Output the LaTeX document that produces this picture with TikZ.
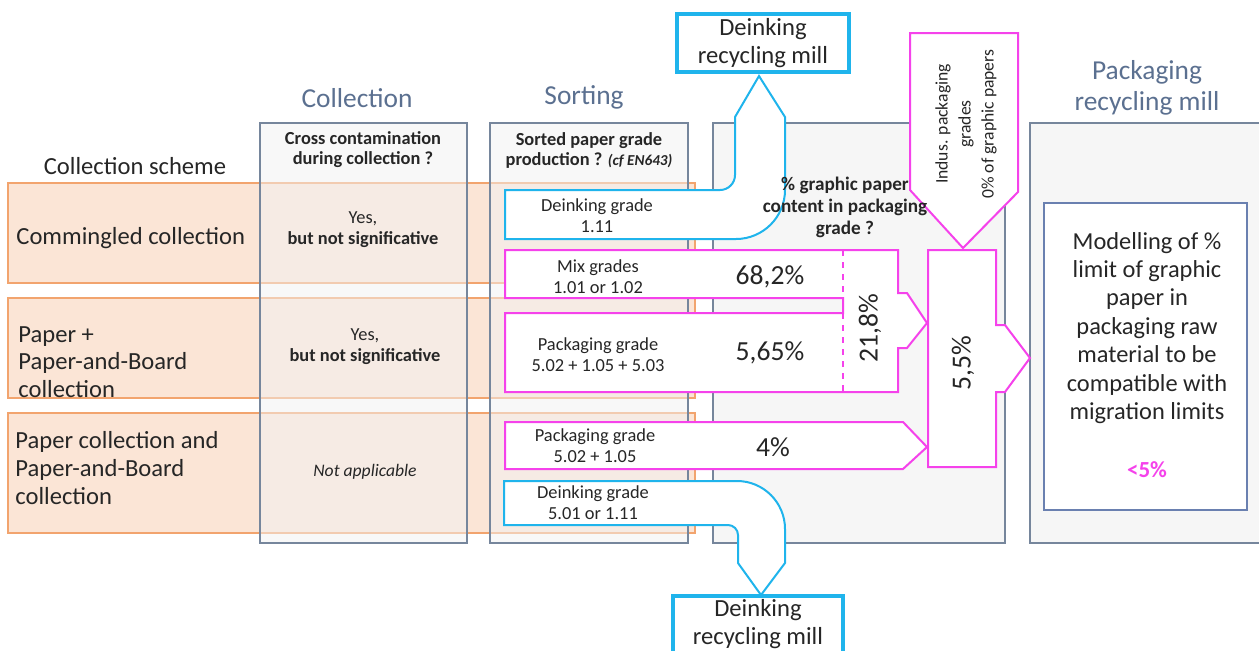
\documentclass[tikz,border=0pt]{standalone}
\usepackage{fontspec}
\setmainfont{Carlito}
\usepackage{tikz}
\definecolor{orangefill}{HTML}{FBE5D6}
\definecolor{orangeline}{HTML}{F2A46E}
\definecolor{colfill}{HTML}{F2F2F2}
\definecolor{colline}{HTML}{76869C}
\definecolor{stagefill}{HTML}{F6F6F6}
\definecolor{headc}{HTML}{5B7090}
\definecolor{deinkblue}{HTML}{1FB4EC}
\definecolor{flowpink}{HTML}{F542EB}
\definecolor{modline}{HTML}{6A80B0}
\definecolor{txt}{HTML}{262626}

\begin{document}
\begin{tikzpicture}[x=0.5pt,y=-0.5pt,
  every node/.append style={text=txt},
  scheme/.style={draw=orangeline,fill=orangefill,line width=0.9pt},
  column/.style={draw=colline,fill=colfill,fill opacity=0.5,line width=1pt},
  stage/.style={draw=colline,fill=stagefill,line width=1pt},
  blueflow/.style={draw=deinkblue,fill=white,line width=1pt},
  pinkflow/.style={draw=flowpink,fill=white,line width=1pt},
  mill/.style={draw=deinkblue,fill=white,line width=1.6pt},
  heading/.style={text=headc,align=center,font=\fontsize{13.7}{15.5}\selectfont},
  rowlabel/.style={anchor=west,align=left,inner sep=0pt,font=\fontsize{12.3}{13.8}\selectfont},
  smalltxt/.style={align=center,font=\fontsize{9.2}{10.5}\selectfont},
  sharetxt/.style={font=\fontsize{13.8}{16}\selectfont},
  millname/.style={align=center,font=\fontsize{12.3}{14}\selectfont}]
  \useasboundingbox (0,0) rectangle (1259,650);
  \clip (0,0) rectangle (1259,650);

  % collection schemes
  \draw[scheme] (8,183) rectangle (695,283);
  \draw[scheme] (8,298) rectangle (695,398);
  \draw[scheme] (8,413) rectangle (695,533);

  % stages
  \draw[column] (260,123) rectangle (467,543);
  \draw[column] (490,123) rectangle (688,543);
  \draw[stage] (713,123) rectangle (1005,543);
  \draw[stage] (1030,123) rectangle (1275,543);

  \node[heading] (collhead) at (357,98) {Collection};
  \node[heading] (sorthead) at (584,97) {Sorting};
  \node[heading] (packhead) at (1147,88) {Packaging\\recycling mill};
  \node[rowlabel,anchor=center] (schemehead) at (135,166) {Collection scheme};

  \node[rowlabel] (commingled) at (16,238) {Commingled collection};
  \node[rowlabel] (paperplus) at (18,362) {Paper +\\Paper-and-Board\\collection};
  \node[rowlabel] (separate) at (15,468) {Paper collection and\\Paper-and-Board\\collection};

  \node[smalltxt,font=\fontsize{9.2}{10}\bfseries] (crosshead) at (363,150)
    {Cross contamination\\during collection ?};
  \node[smalltxt,font=\fontsize{9.2}{10}\bfseries] (sorthdr) at (589,150)
    {Sorted paper grade\\production ? {\itshape\fontsize{7.6}{10}\selectfont (cf EN643)}};
  \node[smalltxt] (cross1) at (363,230) {Yes,\\\textbf{but not significative}};
  \node[smalltxt] (cross2) at (365,347) {Yes,\\\textbf{but not significative}};
  \node[smalltxt,font=\fontsize{8.8}{10}\itshape] (cross3) at (365,472) {Not applicable};

  % flows to deinking mills
  \draw[blueflow] (505,239) -- (505,190) -- (720,190)
    .. controls (728.3,190) and (735,183.3) .. (735,175)
    -- (735,117) -- (759,76) -- (785,117) -- (785,190)
    .. controls (785,217) and (763,239) .. (736,239) -- cycle;
  \node[smalltxt] (deink1) at (597,216) {Deinking grade\\1.11};
  \draw[blueflow] (504,481) -- (737,481)
    .. controls (763.5,481) and (785,502.5) .. (785,529)
    -- (785,563) -- (761,595) -- (738,563) -- (738,535)
    .. controls (738,529.5) and (733.5,525) .. (728,525)
    -- (504,525) -- cycle;
  \node[smalltxt] (deink2) at (593,503) {Deinking grade\\5.01 or 1.11};

  \draw[mill] (677,14) rectangle (849,72);
  \node[millname] (milltop) at (763,43) {Deinking\\recycling mill};
  \draw[mill] (673,596) rectangle (843,670);
  \node[millname] (millbot) at (758,624) {Deinking\\recycling mill};

  % flows to packaging
  \draw[pinkflow] (505,250) -- (898,250) -- (898,293) -- (907,293) -- (927,323)
    -- (907,348) -- (898,348) -- (898,392) -- (505,392) -- (505,313)
    -- (843,313) -- (843,298) -- (505,298) -- cycle;
  \draw[flowpink,line width=1pt,dashed] (843,250) -- (843,298) (843,313) -- (843,392);
  \node[smalltxt] (mix) at (598,277) {Mix grades\\1.01 or 1.02};
  \node[sharetxt] (mixshare) at (770,277) {68,2\%};
  \node[smalltxt] (pack1) at (598,355) {Packaging grade\\5.02 + 1.05 + 5.03};
  \node[sharetxt] (pack1share) at (770,353) {5,65\%};
  \node[sharetxt,rotate=90] (mergedshare) at (870,328) {21,8\%};

  \draw[pinkflow] (505,422) -- (903,422) -- (927,447) -- (903,469) -- (505,469) -- cycle;
  \node[smalltxt] (pack2) at (595,446) {Packaging grade\\5.02 + 1.05};
  \node[sharetxt] (pack2share) at (773,447) {4\%};

  \draw[pinkflow] (910,33) -- (1018,33) -- (1018,192) -- (963,248) -- (910,190) -- cycle;
  \node[smalltxt,rotate=90,font=\fontsize{8.8}{11.5}\selectfont] (indus) at (966,124)
    {Indus. packaging\\grades\\0\% of graphic papers};

  \node[smalltxt,font=\fontsize{9.6}{11}\bfseries] (graphhead) at (845,207)
    {\% graphic paper\\content in packaging\\grade ?};

  \draw[pinkflow] (928,250) -- (996,250) -- (996,325) -- (1005,325) -- (1030,358)
    -- (1005,392) -- (996,392) -- (996,467) -- (928,467) -- cycle;
  \node[sharetxt,rotate=90] (total) at (963,363) {5,5\%};

  % modelling
  \draw[draw=modline,fill=white,line width=1pt] (1044,203) rectangle (1247,510);
  \node[millname,font=\fontsize{12.2}{14.2}\selectfont] (model) at (1147,328)
    {Modelling of \%\\limit of graphic\\paper in\\packaging raw\\material to be\\compatible with\\migration limits};
  \node[text=flowpink,font=\fontsize{11.5}{13}\bfseries] (limit) at (1147,470) {<5\%};
\end{tikzpicture}
\end{document}
